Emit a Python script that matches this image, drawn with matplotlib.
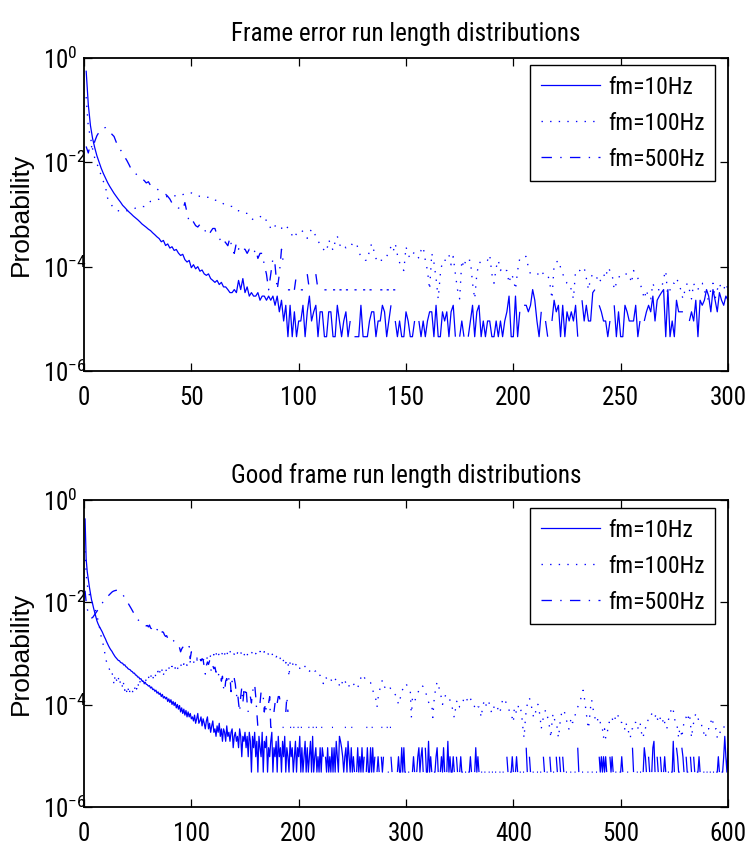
import numpy as np
import matplotlib
matplotlib.use("Agg")
import matplotlib.pyplot as plt
from matplotlib import font_manager
from matplotlib.lines import Line2D
from matplotlib.ticker import FixedLocator, NullLocator, LogFormatterSciNotation

# ---------------- data (histogram counts per run length) ----------------
# Top panel: frame error run lengths 1..300
err_total_10 = 220000
err_total_100 = 83000
err_total_500 = 27800

err_10_head = [126000, 28000, 11200, 6300, 4200, 2950, 2240, 1700, 1350, 1100,
               900, 760, 650, 560, 490, 430, 380, 330, 300, 270,
               245, 225, 205, 190, 175, 160, 145, 135, 125, 115,
               108, 98, 90, 82, 76]
err_10_mid = [66, 70, 56, 60, 50, 53, 45, 47, 40, 36, 38, 30, 27, 29, 21, 24, 20, 22, 18, 19,
              16, 15, 16, 13, 12, 11, 12, 10, 11, 9, 9, 8, 7, 7, 8, 7, 12, 8, 13, 7,
              9, 6, 7, 6, 6, 7, 5, 6, 6, 5, 6, 5, 6, 4, 6]
err_10_tail = [3, 5, 2, 4, 1, 4, 1, 3, 1, 2,
               2, 4, 1, 3, 6, 2, 3, 4, 1, 3, 3, 1, 1, 3, 3, 1, 1, 4, 2, 1,
               2, 3, 1, 2, 0, 1, 1, 1, 4, 1, 1, 1, 2, 3, 3, 1, 2, 2, 4, 3,
               1, 2, 4, 0, 2, 1, 2, 1, 1, 3, 2, 1, 1, 2, 0, 2, 1, 2, 1, 2,
               3, 3, 1, 4, 1, 1, 3, 2, 3, 1, 3, 4, 1, 0, 1, 2, 1, 0, 1, 2,
               4, 1, 3, 4, 1, 2, 1, 2, 2, 1, 1, 2, 1, 2, 1, 2, 3,
               6, 1, 1, 6, 1, 3, 0, 4, 4, 3, 4, 8, 5, 2, 1, 3, 0, 2, 1, 0,
               2, 5, 3, 4, 1, 4, 1, 3, 2, 3, 2, 4, 1, 0, 5, 2, 4, 2, 2, 7,
               8, 0, 4, 3, 2, 2, 1, 2, 0, 4, 1, 3, 1, 1, 4, 3, 2, 2, 2, 4,
               1, 2, 0, 2, 3, 4, 3, 6, 2, 5, 6, 7, 8, 1, 8, 1, 2, 1, 5, 3,
               3, 3, 0, 0, 2, 3, 2, 5, 1, 5, 4, 5, 8, 6, 3, 8, 5, 3, 7, 5,
               4, 6, 5]

err_100 = [14800, 3990, 2520, 1500, 1000, 796, 600, 469, 360, 283,
           171, 150, 123, 110, 100, 98, 96, 95, 97, 98,
           100, 103, 106, 110, 112, 115, 118, 118, 130, 140,
           148, 150, 155, 160, 163, 170, 175, 180, 185, 195,
           190, 188, 192, 187, 195, 200, 205, 210, 219, 215,
           205, 195, 190, 185, 182, 180, 176, 178, 165, 159,
           156, 155, 150, 140, 133, 128, 123, 120, 118, 110,
           100, 98, 93, 90, 88, 87, 75, 69, 66, 69,
           72, 75, 78, 78, 62, 58, 44, 42, 50, 53,
           47, 45, 50, 53, 45, 39, 33, 29, 36, 39,
           42, 39, 34, 29, 36, 44, 38, 32, 26, 22,
           19, 17, 16, 27, 22, 17, 25, 32, 22, 20,
           22, 19, 21, 23, 22, 21, 23, 16, 13, 12,
           11, 11, 17, 23, 17, 12, 10, 11, 11, 13,
           13, 16, 20, 16, 23, 14, 10, 8, 7, 20,
           14, 12, 14, 16, 14, 12, 17, 20, 11, 7,
           3, 15, 10, 5, 2, 6, 11, 11, 11, 14,
           9, 13, 6, 3, 2, 11, 8, 12, 11, 11,
           4, 2, 6, 10, 10, 10, 10, 11, 14, 6,
           4, 8, 11, 7, 8, 7, 7, 4, 6, 5,
           3, 7, 12, 13, 13, 13, 8, 6, 6, 6,
           6, 6, 7, 6, 6, 6, 4, 2, 9, 10,
           11, 8, 6, 5, 4, 4, 3, 2, 7, 7,
           7, 8, 8, 5, 3, 5, 6, 6, 5, 4,
           5, 6, 5, 8, 7, 6, 3, 4, 5, 6,
           6, 6, 6, 6, 4, 7, 6, 5, 4, 3,
           2, 3, 2, 2, 4, 3, 3, 3, 3, 5,
           7, 2, 3, 4, 4, 5, 4, 3, 2, 3,
           4, 3, 2, 4, 3, 3, 4, 4, 3, 2,
           2, 3, 4, 2, 3, 4, 3, 3, 4, 3]

err_500 = [560, 420, 630, 500, 700, 900, 1050, 1180, 1260, 1290,
           1200, 1080, 960, 870, 680, 560, 480, 420, 350, 300,
           250, 205, 185, 170, 155, 145, 135, 125, 112, 118,
           100, 96, 92, 86, 80, 76, 72, 68, 62, 55,
           46, 42, 40, 37, 36, 34, 47, 30, 20, 22,
           20, 17, 16, 18, 16, 15, 12, 11, 13, 15,
           15, 11, 10, 8, 9, 8, 7, 10, 6, 5,
           8, 6, 7, 6, 6, 5, 6, 5, 5, 6,
           4, 5, 5, 3, 2, 1, 2, 4, 3, 1,
           2, 6, 3, 0, 1, 1, 0, 1, 2, 0,
           1, 1, 0, 2, 1, 0, 0, 2, 1, 1,
           0, 1, 1, 0, 0, 1, 1, 0, 1, 1,
           0, 1, 1, 0, 0, 1, 1, 0, 0, 1,
           1, 0, 1, 1, 0, 0, 0, 1, 1, 0,
           1, 1, 0, 1, 1, 0, 0, 0, 0, 0]

# Bottom panel: good frame run lengths 1..600
good_total_10 = 208000
good_total_100 = 89000
good_total_500 = 27800

good_10_head = [91000, 14800, 8300, 5900, 4170, 3090, 2340, 1950, 1580, 1320,
                1100, 910, 800, 720, 660, 600, 550, 490, 440, 400,
                355, 320, 290, 265, 245, 230, 210, 195, 180, 170,
                160, 152, 150, 140, 136, 134, 124, 125, 115, 112,
                105, 102, 100, 94, 92, 86, 86, 79, 78, 72,
                72, 66, 67, 61, 60, 56, 57, 52, 51, 48,
                49, 44, 46, 41, 42, 38, 40, 35, 37, 33,
                35, 30, 33, 28, 30, 27, 29, 24, 27, 23,
                26, 21, 24, 20, 23, 18, 21, 17, 20, 15,
                18, 14, 17, 13, 16, 12, 15, 12, 14, 11]
good_10_mid = [12, 10, 13, 9, 11, 14, 9, 10, 12, 8, 11, 9, 7, 10, 12, 7, 9, 6, 8, 10,
               6, 7, 5, 8, 6, 9, 5, 7, 4, 7, 6, 4, 8, 5, 6, 4, 6, 7, 3, 5,
               6, 4, 5, 3, 7, 5, 2, 5, 4, 6,
               3, 5, 2, 6, 4, 1, 5, 3, 6, 2, 4, 1, 5, 3, 2, 6, 1, 4, 3, 5,
               1, 3, 2, 4, 6, 1, 3, 2, 4, 1, 5, 2, 3, 1, 4, 2, 5, 1, 3, 2,
               1, 4, 2, 3, 1, 2, 4, 1, 3, 2]
good_10_tail = [5, 1, 3, 1, 2, 4, 1, 3, 1, 2, 4, 1, 5, 1, 2, 3, 1, 2, 1, 3,
                1, 3, 2, 0, 2, 1, 3, 1, 2, 1, 3, 1, 3, 1, 4, 2, 1, 5, 4, 3,
                2, 1, 2, 3, 1, 4, 2, 1, 3, 1, 2, 1, 0, 1, 3, 1, 2, 1, 3, 1,
                2, 0, 1, 3, 1, 1, 3, 1, 3, 1, 2, 0, 1, 2, 1, 0, 2, 1, 2, 0,
                1, 0, 1, 1, 0, 2, 1, 0, 1, 0, 0, 1, 2, 1, 1, 3, 1, 3, 1, 1,
                0, 1, 1, 0, 0, 1, 2, 1, 0, 1, 2, 3, 1, 2, 3, 1, 0, 3, 1, 1,
                4, 1, 2, 1, 0, 1, 1, 2, 3, 1, 0, 1, 2, 1, 3, 1, 0, 1, 4, 1,
                2, 1, 1, 2, 1, 0, 2, 1, 0, 1, 2, 1, 1, 0, 1, 1, 0, 1, 1, 2,
                1, 0, 0, 1, 3, 1, 2, 1, 0, 1, 1, 0, 1, 1, 0, 0, 1, 1, 0, 1,
                1, 0, 1, 1, 0, 0, 1, 1, 0, 1, 1, 0, 0, 2, 1, 0, 1, 1, 2, 1,
                0, 1, 2, 1, 0, 1, 1, 0, 1, 1, 0, 3, 1, 0, 2, 1, 0, 1, 1, 0,
                0, 1, 1, 0, 1, 1, 0, 2, 1, 0, 1, 1, 0, 2, 1, 0, 1, 1, 0, 2,
                1, 0, 2, 1, 0, 2, 1, 0, 1, 1, 0, 0, 1, 1, 0, 0, 1, 1, 0, 3,
                1, 0, 0, 1, 1, 0, 0, 0, 1, 1, 0, 0, 1, 1, 0, 0, 1, 1, 0, 2,
                1, 2, 1, 2, 1, 2, 1, 0, 0, 2, 1, 2, 1, 0, 1, 1, 0, 0, 1, 1,
                2, 1, 0, 0, 0, 1, 1, 0, 0, 0, 3, 1, 0, 0, 1, 1, 0, 1, 1, 0,
                1, 3, 2, 1, 0, 2, 1, 0, 1, 3, 4, 1, 0, 2, 1, 0, 2, 1, 0, 1,
                2, 1, 0, 1, 1, 0, 1, 1, 4, 1, 0, 3, 2, 1, 1, 0, 3, 2, 1, 0,
                2, 1, 1, 0, 2, 1, 0, 2, 1, 0, 1, 1, 2, 1, 0, 0, 1, 1, 0, 1,
                1, 0, 1, 1, 0, 1, 1, 0, 1, 1, 2, 1, 0, 1, 1, 2, 5, 2, 1, 3]

good_100 = [8900, 3200, 2000, 1500, 1250, 1080, 950, 850, 760, 680,
            600, 500, 400, 320, 250, 190, 160, 130, 105, 70,
            62, 55, 48, 42, 45, 39, 30, 22, 34, 28, 24, 30, 22, 26, 27, 18, 24, 17, 20, 15,
            19, 14, 18, 16, 15, 19, 17, 22, 18, 24, 20, 26, 21, 23, 28, 22, 30, 25, 27, 32,
            26, 30, 35, 28, 33, 38, 30, 36, 40, 33, 43, 37, 45, 34, 41, 46, 38, 43, 48, 40,
            45, 50, 42, 48, 46, 53, 44, 50, 47, 55, 49, 45, 56, 50, 58, 52, 60, 55, 62, 57,
            64, 58, 66, 61, 70, 60, 68, 72, 63, 74, 66, 70, 78, 68, 75, 80, 70, 82, 71, 77,
            85, 74, 90, 80, 95, 78, 88, 82, 92, 76, 86, 95, 80, 98, 88, 100, 84, 94, 90, 86,
            96, 83, 92, 88, 80, 94, 85, 78, 90, 76, 88, 82, 95, 86, 90, 89, 97, 84, 92, 88,
            96, 93, 86, 98, 90, 94, 85, 97, 88, 98, 92, 84, 95, 87, 90, 80, 83, 88, 76, 82,
            74, 80, 70, 66, 75, 62, 70, 58, 66, 66, 31, 60, 55, 62, 50, 56, 51, 58, 48, 46,
            46, 44, 41, 43, 47, 50, 52, 48, 44, 40, 42, 45, 46, 43, 40, 41, 43, 38, 35, 33,
            30, 26, 23, 27, 31, 29, 27, 29, 30, 28, 25, 23, 25, 27, 29, 28, 25, 21, 19, 22,
            26, 29, 27, 23, 20, 19, 21, 23, 22, 24, 23, 21, 19, 18, 19, 22, 26, 30, 33, 35,
            31, 28, 26, 25, 25, 24, 24, 20, 17, 15, 14, 11, 8, 12, 16, 19, 23, 27, 24, 20,
            18, 17, 18, 19, 19, 18, 16, 15, 15, 14, 13, 11, 9, 10, 13, 16, 18, 20, 22, 23,
            21, 19, 18, 17, 5, 12, 11, 10, 12, 14, 15, 17, 19, 21, 21, 20, 18, 16, 14, 12,
            10, 9, 9, 9, 5, 10, 15, 20, 25, 23, 18, 15, 12, 9, 10, 12, 14, 13, 12, 11,
            11, 10, 8, 6, 5, 7, 10, 11, 9, 8, 8, 9, 10, 12, 13, 12, 11, 10, 11, 12,
            10, 9, 9, 8, 7, 7, 8, 8, 7, 5, 7, 9, 11, 10, 8, 9, 10, 9, 7, 6,
            7, 8, 9, 9, 8, 7, 6, 7, 9, 11, 12, 11, 10, 9, 8, 7, 6, 5, 5, 4,
            8, 7, 6, 7, 9, 8, 7, 5, 3, 2, 4, 7, 9, 11, 12, 10, 8, 6, 5, 5,
            7, 9, 9, 7, 5, 3, 4, 5, 6, 7, 6, 5, 4, 3, 2, 4, 6, 5, 4, 4,
            3, 2, 3, 5, 6, 7, 7, 6, 5, 4, 3, 3, 4, 5, 4, 4, 5, 6, 7, 8,
            9, 10, 12, 15, 17, 13, 9, 6, 4, 3, 5, 8, 11, 8, 6, 5, 4, 4, 5, 4,
            4, 3, 3, 2, 3, 2, 2, 3, 4, 4, 4, 5, 4, 4, 5, 6, 6, 5, 4, 4,
            4, 3, 3, 3, 4, 3, 3, 2, 2, 3, 3, 4, 4, 4, 3, 3, 4, 4, 3, 2,
            2, 3, 3, 4, 4, 5, 5, 5, 6, 6, 5, 5, 6, 5, 4, 4, 5, 4, 4, 5,
            4, 3, 3, 4, 5, 6, 7, 8, 7, 5, 4, 4, 3, 2, 3, 3, 2, 3, 4, 5,
            5, 6, 5, 6, 4, 2, 3, 4, 5, 6, 6, 5, 4, 4, 4, 3, 3, 2, 2, 3,
            3, 3, 4, 4, 5, 4, 3, 3, 3, 2, 2, 2, 3, 3, 3, 3, 4, 4, 4, 4]

good_500 = [468, 280, 210, 170, 150, 140, 138, 140, 150, 160,
            172, 185, 200, 215, 230, 250, 268, 290, 310, 330,
            350, 365, 380, 400, 420, 440, 455, 465, 472, 478,
            475, 470, 455, 440, 417, 395, 370, 345, 318, 292,
            269, 248, 228, 210, 192, 175, 162, 150, 140, 128,
            123, 118, 114, 110, 107, 104, 100, 96, 98, 92,
            100, 88, 84, 76, 74, 80, 77, 82, 78, 85,
            80, 70, 74, 72, 64, 60, 62, 55, 58, 54,
            52, 50, 51, 48, 47, 46, 44, 41, 36, 30,
            34, 37, 35, 33, 35, 37, 36, 38, 22, 30,
            27, 25, 24, 23, 22, 24, 21, 23, 20, 22,
            21, 15, 11, 16, 19, 17, 20, 14, 12, 16,
            14, 15, 12, 13, 10, 12, 11, 8, 10, 6,
            5, 8, 9, 7, 9, 10, 5, 8, 7, 9,
            7, 4, 5, 3, 2, 4, 6, 3, 5, 4,
            6, 3, 2, 0, 4, 3, 5, 6, 7, 4,
            2, 1, 0, 3, 5, 4, 4, 2, 3, 2,
            0, 3, 4, 1, 1, 0, 2, 3, 0, 3,
            4, 4, 3, 0, 1, 1, 0, 2, 4, 2,
            0, 1, 1, 0, 1, 1, 0, 0, 1, 1,
            0, 1, 1, 0, 0, 0, 0, 0, 1, 1,
            0, 0, 1, 1, 0, 1, 1, 0, 0, 0,
            1, 1, 0, 0, 0, 0, 0, 0, 0, 0,
            1, 1, 0, 0, 0, 0, 0, 0, 0, 0,
            0, 0, 1, 1, 0, 0, 0, 0, 1, 1,
            0, 0, 0, 0, 0, 0, 0, 0, 0, 0,
            0, 0, 1, 1, 0, 0, 0, 1, 1, 0,
            0, 0, 0, 0, 0, 0, 1, 1, 0, 0,
            0, 1, 1, 0, 1, 1, 0, 0, 0, 0]

series_labels = ["fm=10Hz", "fm=100Hz", "fm=500Hz"]
titles = ["Frame error run length distributions", "Good frame run length distributions"]
y_ticks = [1e-6, 1e-4, 1e-2, 1e0]
x_ticks_top = [0, 50, 100, 150, 200, 250, 300]
x_ticks_bottom = [0, 100, 200, 300, 400, 500, 600]

# ---------------- fonts ----------------
names = {f.name for f in font_manager.fontManager.ttflist}
narrow_family, narrow_stretch = "DejaVu Sans", "condensed"
for cand in ["Liberation Sans Narrow", "Arial Narrow", "Nimbus Sans Narrow", "Roboto Condensed"]:
    if cand in names:
        narrow_family, narrow_stretch = cand, "normal"
        break
label_family = "Liberation Sans" if "Liberation Sans" in names else "DejaVu Sans"

plt.rcParams.update({
    "font.family": [narrow_family, "DejaVu Sans"],
    "font.stretch": narrow_stretch,
    "mathtext.default": "regular",
    "lines.scale_dashes": False,
    "xtick.direction": "in",
    "ytick.direction": "in",
    "xtick.top": True,
    "ytick.right": True,
    "xtick.major.size": 6,
    "ytick.major.size": 6,
    "xtick.major.width": 0.9,
    "ytick.major.width": 0.9,
    "axes.linewidth": 1.3,
})

BLUE = (0, 0, 1)
styles = [dict(linestyle="-", lw=0.9),
          dict(linestyle=(0, (1.0, 5.2)), lw=0.95),
          dict(linestyle=(0, (7.5, 6.0, 1.0, 6.0)), lw=0.95)]


def probs(counts, total):
    c = np.asarray(counts, dtype=float)
    return np.where(c > 0, c / total, np.nan)


fig = plt.figure(figsize=(7.5, 8.48), dpi=100)
W, H = 750.0, 848.0
ax1 = fig.add_axes([84 / W, 1 - 371 / H, 644 / W, 313 / H])
ax2 = fig.add_axes([84 / W, 1 - 807 / H, 644 / W, 307 / H])

top_series = [(err_10_head + err_10_mid + err_10_tail, err_total_10),
              (err_100, err_total_100),
              (err_500, err_total_500)]
bottom_series = [(good_10_head + good_10_mid + good_10_tail, good_total_10),
                 (good_100, good_total_100),
                 (good_500, good_total_500)]

panels = [(ax1, top_series, 300, x_ticks_top, titles[0], 0.9776),
          (ax2, bottom_series, 600, x_ticks_bottom, titles[1], 0.974)]

for ax, series, xmax, xt, title, ly in panels:
    for (counts, total), st in zip(series, styles):
        y = probs(counts, total)
        x = np.arange(1, len(y) + 1)
        ax.plot(x, y, color=BLUE, solid_capstyle="butt", dash_capstyle="butt", **st)
    ax.set_yscale("log")
    ax.set_ylim(1e-6, 1)
    ax.set_xlim(0, xmax)
    ax.yaxis.set_major_locator(FixedLocator(y_ticks))
    ax.yaxis.set_minor_locator(NullLocator())
    ax.yaxis.set_major_formatter(LogFormatterSciNotation())
    ax.set_xticks(xt)
    ax.tick_params(axis="both", labelsize=18)
    ax.tick_params(axis="x", pad=10.5)
    ax.tick_params(axis="y", pad=29.5)
    for lab in ax.get_yticklabels():
        lab.set_horizontalalignment("left")
    ax.set_title(title, fontsize=18, pad=12)
    ax.set_ylabel("Probability", fontsize=19, family=label_family, fontstretch="normal")
    ax.yaxis.set_label_coords(-0.08, 0.5)
    handles = [Line2D([], [], color=BLUE, **st) for st in styles]
    leg = ax.legend(handles, series_labels, loc="upper right", bbox_to_anchor=(0.9798, ly),
                    borderaxespad=0, fontsize=17, handlelength=2.5, handletextpad=0.35,
                    labelspacing=0.55, borderpad=0.45, fancybox=False, edgecolor="black",
                    framealpha=1)
    leg.get_frame().set_linewidth(1.0)

fig.savefig("out.png", dpi=100)
